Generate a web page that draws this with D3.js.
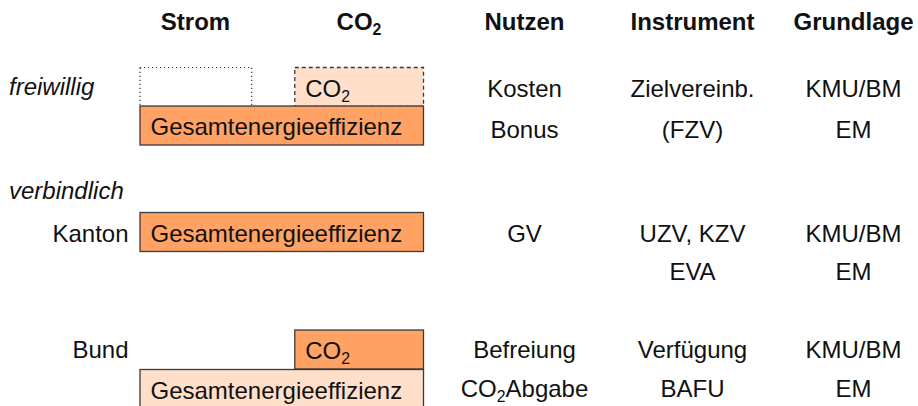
<!DOCTYPE html>
<html>
<head>
<meta charset="utf-8">
<script src="https://cdn.jsdelivr.net/npm/d3@7"></script>
<style>
  body { margin: 0; background: #fff; }
  svg text { font-family: "Liberation Sans", Arial, sans-serif; fill: #111; }
</style>
</head>
<body>
<div id="chart"></div>
<script>
// column headers
const headers = ["Strom", "CO2", "Nutzen", "Instrument", "Grundlage"];

// row keys (two lines per block)
const rows = ["f1", "f2", "k1", "k2", "b1", "b2"];

// group / level labels
const groups = [{label: "freiwillig", row: "freiwillig"}, {label: "verbindlich", row: "verbindlich"}];
const levels = [{label: "Kanton", row: "k1"}, {label: "Bund", row: "b1"}];

// table columns on the right
const nutzen = [["f1", "Kosten"], ["f2", "Bonus"], ["k1", "GV"], ["b1", "Befreiung"], ["b2", "CO2Abgabe"]];
const instrument = [["f1", "Zielvereinb."], ["f2", "(FZV)"], ["k1", "UZV, KZV"], ["k2", "EVA"], ["b1", "Verfügung"], ["b2", "BAFU"]];
const grundlage = [["f1", "KMU/BM"], ["f2", "EM"], ["k1", "KMU/BM"], ["k2", "EM"], ["b1", "KMU/BM"], ["b2", "EM"]];

// boxes: share of the Strom..CO2 span they cover, and kind
const boxRow   = ["f1", "f1", "f2", "k1", "b1", "b2"];
const boxFrom  = [0, 0.546, 0, 0, 0.546, 0];
const boxTo    = [0.394, 1, 1, 1, 1, 1];
const boxLabel = ["", "CO2", "Gesamtenergieeffizienz", "Gesamtenergieeffizienz", "CO2", "Gesamtenergieeffizienz"];
const boxKind  = ["dotted", "dashedLight", "solid", "solid", "solid", "solidLight"];

const W = 918, H = 406;
const fs = 24;

const svg = d3.select("#chart").append("svg")
    .attr("width", W)
    .attr("height", H);

// scales
let xShare = d3.scaleLinear().domain([0, 1]).range([140, 423.5]);
let colX = d3.scaleOrdinal().domain(headers).range([195.5, 359, 524.5, 692.5, 853.5]);
let rowY = d3.scaleOrdinal().domain(rows).range([97, 137.5, 241.5, 280, 358, 396.5]);
let boxTop = d3.scaleOrdinal().domain(rows).range([67.5, 106, 212.5, 280, 330, 369.5]);
let groupY = d3.scaleOrdinal().domain(["freiwillig", "verbindlich"]).range([95, 199]);
const boxH = 39;

let fillFor = {dotted: "none", dashedLight: "#ffdfca", solid: "#ffa264", solidLight: "#ffdfca"};
let dashFor = {dotted: "1.2,2.8", dashedLight: "4,3", solid: null, solidLight: null};

// write text, turning "CO2" into CO with a subscript 2
function coText(sel, str) {
    let parts = str.split("CO2");
    parts.forEach((p, i) => {
        if (i > 0) {
            sel.append("tspan").text("CO");
            sel.append("tspan").attr("dy", 5).attr("font-size", fs * 0.66).text("2");
            if (p !== "") sel.append("tspan").attr("dy", -5).text(p);
        } else if (p !== "") {
            sel.append("tspan").text(p);
        }
    });
}

// headers
headers.forEach(h => {
    let t = svg.append("text")
        .attr("x", colX(h))
        .attr("y", 30)
        .attr("text-anchor", "middle")
        .attr("font-size", fs)
        .attr("font-weight", "bold");
    coText(t, h);
});

// boxes
let boxes = boxRow.map((r, i) => ({row: r, from: boxFrom[i], to: boxTo[i], label: boxLabel[i], kind: boxKind[i]}));

svg.selectAll("rect.box")
    .data(boxes)
    .enter()
    .append("rect")
    .attr("class", "box")
    .attr("x", d => xShare(d.from))
    .attr("y", d => boxTop(d.row))
    .attr("width", d => xShare(d.to) - xShare(d.from))
    .attr("height", boxH)
    .attr("fill", d => fillFor[d.kind])
    .attr("stroke", d => d.kind == "dotted" ? "#333" : "#3a3a3a")
    .attr("stroke-width", d => d.kind == "dotted" ? 1.2 : 1.3)
    .attr("stroke-dasharray", d => dashFor[d.kind]);

boxes.filter(d => d.label !== "").forEach(d => {
    let t = svg.append("text")
        .attr("x", xShare(d.from) + 10.5)
        .attr("y", boxTop(d.row) + 29)
        .attr("font-size", fs);
    coText(t, d.label);
});

// group labels (italic)
groups.forEach(g => {
    svg.append("text")
        .attr("x", 9)
        .attr("y", groupY(g.row))
        .attr("font-size", fs)
        .attr("font-style", "italic")
        .text(g.label);
});

// level labels
levels.forEach(l => {
    svg.append("text")
        .attr("x", 128.5)
        .attr("y", rowY(l.row))
        .attr("text-anchor", "end")
        .attr("font-size", fs)
        .text(l.label);
});

// right hand columns
[["Nutzen", nutzen], ["Instrument", instrument], ["Grundlage", grundlage]].forEach(([col, list]) => {
    list.forEach(([r, label]) => {
        let t = svg.append("text")
            .attr("x", colX(col))
            .attr("y", rowY(r))
            .attr("text-anchor", "middle")
            .attr("font-size", fs);
        coText(t, label);
    });
});
</script>
</body>
</html>
